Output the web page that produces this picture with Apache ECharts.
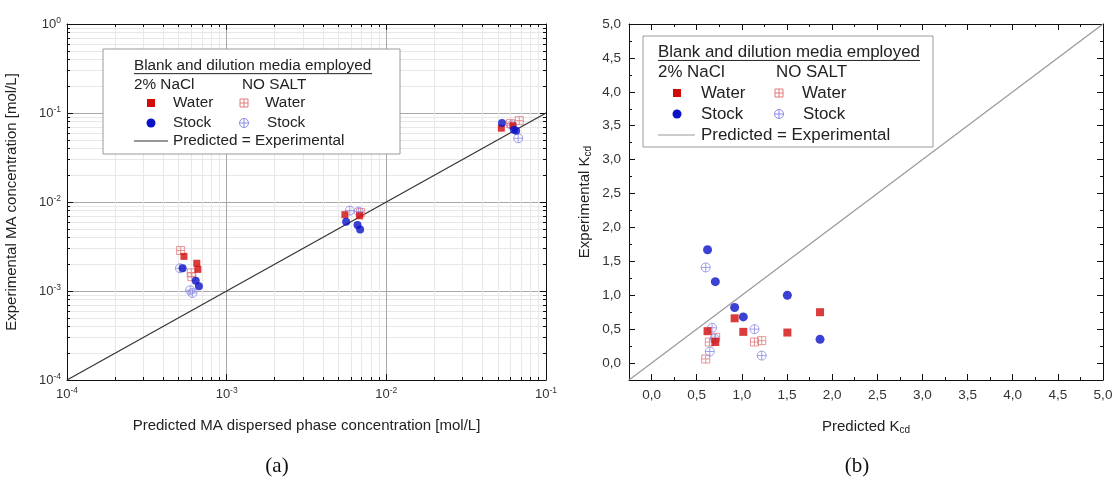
<!DOCTYPE html>
<html>
<head>
<meta charset="utf-8">
<script src="https://cdn.jsdelivr.net/npm/echarts@6/dist/echarts.min.js"></script>
<style>
html,body{margin:0;padding:0;background:#fff;}
#c{width:1119px;height:480px;}
</style>
</head>
<body>
<div id="c"></div>
<script>
// ---------- DATA (a): log-log MA concentration ----------
const aSaltWater   = [[5.4e-4,2.45e-3],[6.5e-4,2.05e-3],[6.6e-4,1.75e-3],[5.5e-3,7.2e-3],[6.8e-3,7.0e-3],[5.25e-2,6.75e-2],[6.2e-2,7.2e-2]];
const aSaltStock   = [[5.3e-4,1.8e-3],[6.4e-4,1.3e-3],[6.7e-4,1.13e-3],[5.6e-3,6.0e-3],[6.6e-3,5.5e-3],[6.85e-3,4.9e-3],[5.3e-2,7.7e-2],[6.3e-2,6.5e-2],[6.5e-2,6.3e-2]];
const aNoSaltWater = [[5.15e-4,2.85e-3],[6.0e-4,1.6e-3],[6.05e-4,1.45e-3],[6.9e-3,7.6e-3],[6.0e-2,7.6e-2],[6.8e-2,8.2e-2]];
const aNoSaltStock = [[5.1e-4,1.8e-3],[5.9e-4,1.02e-3],[6.1e-4,0.95e-3],[5.9e-3,8.0e-3],[6.7e-3,7.8e-3],[6.1e-2,7.3e-2],[6.7e-2,5.2e-2]];
const aIdentity    = [[1e-4,1e-4],[1e-1,1e-1]];
const aMinorExp    = [-3.699,-3.523,-3.398,-3.301,-3.222,-3.155,-3.097,-3.046,
                      -2.699,-2.523,-2.398,-2.301,-2.222,-2.155,-2.097,-2.046,
                      -1.699,-1.523,-1.398,-1.301,-1.222,-1.155,-1.097,-1.046];
const aMinorExpY   = aMinorExp.concat([-0.699,-0.523,-0.398,-0.301,-0.222,-0.155,-0.097,-0.046]);

// ---------- DATA (b): K_cd ----------
const bSaltWater   = [[0.62,0.47],[0.706,0.31],[0.92,0.66],[1.016,0.46],[1.504,0.45],[1.866,0.75]];
const bSaltStock   = [[0.62,1.67],[0.706,1.20],[0.92,0.82],[1.016,0.68],[1.504,1.00],[1.866,0.35]];
const bNoSaltWater = [[0.60,0.06],[0.64,0.31],[0.71,0.38],[1.14,0.31],[1.22,0.33]];
const bNoSaltStock = [[0.60,1.41],[0.67,0.52],[0.645,0.17],[0.70,0.36],[1.14,0.50],[1.22,0.11]];
const bIdentity    = [[-0.25,-0.25],[5,5]];
const bMajorTicks  = [0,0.5,1,1.5,2,2.5,3,3.5,4,4.5,5];

const RED='#d10a0a', BLUE='#0a12c8', LRED='#e07a7a', LBLUE='#8a8ae6';
const SQPLUS='path://M0,0H10V10H0Z M5,0V10 M0,5H10';
const CIRPLUS='path://M10,5A5,5,0,1,1,0,5A5,5,0,1,1,10,5Z M5,0V10 M0,5H10';
const FONT='Liberation Sans, Arial, sans-serif';

function expLabel(v){
  const e=Math.round(Math.log10(v));
  return '{b|10}{s|'+e+'}';
}
const expRich={b:{fontSize:13,color:'#333',fontFamily:FONT},s:{fontSize:8.5,color:'#333',fontFamily:FONT,padding:[0,0,7,0]}};

function logAxis(pos,gi,main,isY){
  return {
    type:'log',logBase:10,gridIndex:gi,position:pos,
    min:1e-4,max:isY?1:1e-1,
    axisLine:{show:true,onZero:false,lineStyle:{color:'#111',width:1}},
    axisTick:{show:true,inside:true,length:6,lineStyle:{color:'#111'}},
    axisLabel:{show:main,formatter:expLabel,rich:expRich,margin:6},
    splitLine:{show:main,lineStyle:{color:'#a8a8a8',width:1}},
    minorTick:{show:false}
  };
}
function minorLogAxis(pos,gi,isY,grid){
  return {
    type:'value',gridIndex:gi,position:pos,
    min:-4,max:isY?0:-1,
    axisLine:{show:false,onZero:false},
    axisTick:{show:true,inside:true,length:3,customValues:isY?aMinorExpY:aMinorExp,lineStyle:{color:'#111'}},
    axisLabel:{show:false},
    splitLine:{show:grid,lineStyle:{color:'#e8e8e8',width:1}}
  };
}
function kAxis(pos,gi,main){
  return {
    type:'value',gridIndex:gi,position:pos,min:-0.25,max:5,interval:0.25,
    axisLine:{show:true,onZero:false,lineStyle:{color:'#111',width:1}},
    axisTick:{show:true,inside:true,length:3,lineStyle:{color:'#111'}},
    axisLabel:{show:main,interval:0,margin:8,fontSize:13.5,color:'#333',fontFamily:FONT,
      formatter:function(v){const d=v*2;return Math.abs(d-Math.round(d))<1e-6?v.toFixed(1).replace('.',','):'';}},
    splitLine:{show:false}
  };
}
function kMajorAxis(pos,gi){
  return {
    type:'value',gridIndex:gi,position:pos,min:-0.25,max:5,
    axisLine:{show:false,onZero:false},
    axisTick:{show:true,inside:true,length:6,customValues:bMajorTicks,lineStyle:{color:'#111'}},
    axisLabel:{show:false},splitLine:{show:false}
  };
}

const titleStyle={fontSize:15,color:'#222',fontFamily:FONT,
  rich:{sub:{fontSize:10,color:'#222',fontFamily:FONT,padding:[7,0,0,0]}}};

const xA0=logAxis('bottom',0,true,false);
xA0.name='Predicted MA dispersed phase concentration [mol/L]';
xA0.nameLocation='middle';xA0.nameGap=38;xA0.nameTextStyle=titleStyle;
const yA0=logAxis('left',0,true,true);
yA0.name='Experimental MA concentration [mol/L]';
yA0.nameLocation='middle';yA0.nameGap=48;yA0.nameTextStyle=titleStyle;

const xB0=kAxis('bottom',1,true);
xB0.name='Predicted K{sub|cd}';xB0.nameLocation='middle';xB0.nameGap=38;xB0.nameTextStyle=titleStyle;
const yB0=kAxis('left',1,true);
yB0.name='Experimental K{sub|cd}';yB0.nameLocation='middle';yB0.nameGap=36;yB0.nameTextStyle=titleStyle;

function sc(name,data,xi,yi,symbol,size,color,open){
  return {type:'scatter',name:name,data:data,xAxisIndex:xi,yAxisIndex:yi,symbol:symbol,symbolSize:size,z:open?3:4,
    itemStyle:open?{color:'rgba(255,255,255,0)',borderColor:color,borderWidth:1}:{color:color},
    emphasis:{disabled:true},silent:true};
}

function legendGroup(o){
  const t=o.tx, fs=o.fs, els=[];
  els.push({type:'rect',shape:{x:o.x0,y:o.y0,width:o.x1-o.x0,height:o.y1-o.y0},style:{fill:'#fff',stroke:'#9a9a9a',lineWidth:1},z:10});
  els.push({type:'text',x:t,y:o.rows[0],style:{text:'Blank and dilution media employed',font:fs+'px '+FONT,fill:'#222',textVerticalAlign:'middle'},z:11});
  els.push({type:'line',shape:{x1:t,y1:o.rows[0]+fs*0.5,x2:o.ulEnd,y2:o.rows[0]+fs*0.5},style:{stroke:'#222',lineWidth:1},z:11});
  els.push({type:'text',x:t,y:o.rows[1],style:{text:'2% NaCl',font:fs+'px '+FONT,fill:'#222',textVerticalAlign:'middle'},z:11});
  els.push({type:'text',x:o.c2,y:o.rows[1],style:{text:'NO SALT',font:fs+'px '+FONT,fill:'#222',textVerticalAlign:'middle'},z:11});
  els.push({type:'rect',shape:{x:o.m1-4,y:o.rows[2]-4,width:8,height:8},style:{fill:RED},z:11});
  els.push({type:'text',x:o.t1,y:o.rows[2],style:{text:'Water',font:fs+'px '+FONT,fill:'#222',textVerticalAlign:'middle'},z:11});
  els.push({type:'rect',shape:{x:o.m2-4,y:o.rows[2]-4,width:8,height:8},style:{fill:'none',stroke:LRED,lineWidth:1},z:11});
  els.push({type:'line',shape:{x1:o.m2,y1:o.rows[2]-4,x2:o.m2,y2:o.rows[2]+4},style:{stroke:LRED,lineWidth:1},z:11});
  els.push({type:'line',shape:{x1:o.m2-4,y1:o.rows[2],x2:o.m2+4,y2:o.rows[2]},style:{stroke:LRED,lineWidth:1},z:11});
  els.push({type:'text',x:o.t2,y:o.rows[2],style:{text:'Water',font:fs+'px '+FONT,fill:'#222',textVerticalAlign:'middle'},z:11});
  els.push({type:'circle',shape:{cx:o.m1,cy:o.rows[3],r:4.5},style:{fill:BLUE},z:11});
  els.push({type:'text',x:o.t1,y:o.rows[3],style:{text:'Stock',font:fs+'px '+FONT,fill:'#222',textVerticalAlign:'middle'},z:11});
  els.push({type:'circle',shape:{cx:o.m2,cy:o.rows[3],r:4.5},style:{fill:'none',stroke:LBLUE,lineWidth:1},z:11});
  els.push({type:'line',shape:{x1:o.m2,y1:o.rows[3]-4.5,x2:o.m2,y2:o.rows[3]+4.5},style:{stroke:LBLUE,lineWidth:1},z:11});
  els.push({type:'line',shape:{x1:o.m2-4.5,y1:o.rows[3],x2:o.m2+4.5,y2:o.rows[3]},style:{stroke:LBLUE,lineWidth:1},z:11});
  els.push({type:'text',x:o.t2s,y:o.rows[3],style:{text:'Stock',font:fs+'px '+FONT,fill:'#222',textVerticalAlign:'middle'},z:11});
  els.push({type:'line',shape:{x1:t,y1:o.rows[4],x2:o.lineEnd,y2:o.rows[4]},style:{stroke:o.lineColor,lineWidth:1.2},z:11});
  els.push({type:'text',x:o.t1,y:o.rows[4],style:{text:'Predicted = Experimental',font:fs+'px '+FONT,fill:'#222',textVerticalAlign:'middle'},z:11});
  return els;
}

const chart=echarts.init(document.getElementById('c'),null,{renderer:'canvas'});
const graphics=[]
  .concat(legendGroup({x0:103,y0:49,x1:400,y1:154,tx:134,fs:15.3,ulEnd:372,rows:[66,85,103,123,141],c2:242,m1:151,t1:173,m2:244,t2:265,t2s:267,lineEnd:168,lineColor:'#333'}))
  .concat(legendGroup({x0:643,y0:36,x1:933,y1:147,tx:658,fs:16.9,ulEnd:920,rows:[52,72,93,114,135],c2:776,m1:677,t1:701,m2:779,t2:802,t2s:803,lineEnd:695,lineColor:'#999'}))
  .concat([
    {type:'text',x:277,y:466,style:{text:'(a)',font:'21px Liberation Serif, Times New Roman, serif',fill:'#111',textAlign:'center',textVerticalAlign:'middle'}},
    {type:'text',x:857,y:466,style:{text:'(b)',font:'21px Liberation Serif, Times New Roman, serif',fill:'#111',textAlign:'center',textVerticalAlign:'middle'}}
  ]);

chart.setOption({
  animation:false,
  backgroundColor:'#fff',
  textStyle:{fontFamily:FONT},
  grid:[
    {left:67,top:24,width:479,height:356,containLabel:false},
    {left:629,top:24,width:474,height:356,containLabel:false}
  ],
  xAxis:[
    xA0, minorLogAxis('bottom',0,false,true), logAxis('top',0,false,false), minorLogAxis('top',0,false,false),
    xB0, kMajorAxis('bottom',1), kAxis('top',1,false), kMajorAxis('top',1)
  ],
  yAxis:[
    yA0, minorLogAxis('left',0,true,true), logAxis('right',0,false,true), minorLogAxis('right',0,true,false),
    yB0, kMajorAxis('left',1), kAxis('right',1,false), kMajorAxis('right',1)
  ],
  series:[
    {type:'line',data:aIdentity,xAxisIndex:0,yAxisIndex:0,symbol:'none',lineStyle:{color:'#333',width:1.2},z:2,silent:true},
    sc('a-ns-water',aNoSaltWater,0,0,SQPLUS,8,LRED,true),
    sc('a-ns-stock',aNoSaltStock,0,0,CIRPLUS,9,LBLUE,true),
    sc('a-water',aSaltWater,0,0,'rect',7,RED,false),
    sc('a-stock',aSaltStock,0,0,'circle',8,BLUE,false),
    {type:'line',data:bIdentity,xAxisIndex:4,yAxisIndex:4,symbol:'none',lineStyle:{color:'#999',width:1.2},z:2,silent:true},
    sc('b-ns-water',bNoSaltWater,4,4,SQPLUS,8,LRED,true),
    sc('b-ns-stock',bNoSaltStock,4,4,CIRPLUS,9,LBLUE,true),
    sc('b-water',bSaltWater,4,4,'rect',8,RED,false),
    sc('b-stock',bSaltStock,4,4,'circle',9,BLUE,false)
  ],
  graphic:graphics
});
</script>
</body>
</html>
